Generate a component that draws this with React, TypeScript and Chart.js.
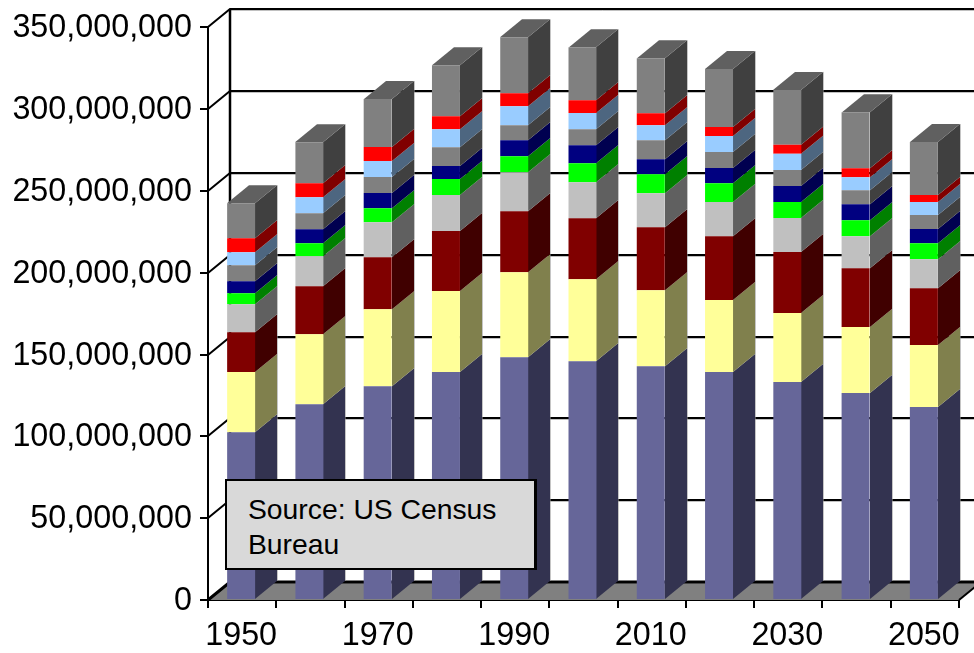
import React, { useEffect, useRef } from "react";
import { Chart, registerables } from "chart.js";

Chart.register(...registerables);

const years = ["1950","1960","1970","1980","1990","2000","2010","2020","2030","2040","2050"];

// values in millions
const s1 = [102.6,119.7,130.7,139.3,148.4,146.0,142.9,139.3,133.2,126.5,117.9];
const s2 = [36.7,42.8,47.0,49.5,51.9,50.1,46.4,44.0,42.2,40.3,37.9];
const s3 = [24.4,29.3,31.8,36.7,37.3,37.3,38.5,39.1,37.3,36.0,34.8];
const s4 = [17.1,18.3,21.4,22.0,23.8,22.0,20.8,20.8,20.8,19.5,17.7];
const s5 = [6.7,7.9,8.6,9.8,9.8,11.6,11.6,11.6,9.8,9.8,9.8];
const s6 = [7.3,8.6,9.2,7.9,9.8,11.0,9.2,9.2,9.8,9.8,8.6];
const s7 = [9.8,9.8,9.8,11.6,9.2,9.8,11.6,9.8,9.8,8.6,8.6];
const s8 = [7.9,9.8,9.8,11.0,11.6,9.8,9.2,9.8,9.8,7.9,7.9];
const s9 = [8.6,8.6,8.6,7.9,7.9,7.9,7.3,5.5,5.5,5.5,4.3];
const s10 = [21.4,25.0,29.3,31.2,34.2,32.4,33.6,35.4,33.6,34.2,32.4];

const seriesValues = [s1,s2,s3,s4,s5,s6,s7,s8,s9,s10];
const frontColors = ["#666699","#FFFF99","#800000","#C0C0C0","#00FF00","#000080","#808080","#99CCFF","#FF0000","#808080"];
const sideColors = ["#333350","#80804D","#400000","#606060","#008000","#000050","#404040","#4D6680","#800000","#404040"];
const topColor = "#606060";
const floorColor = "#808080";

const DX = 22;
const DY = 18;
const BAR_SHIFT = -1;

const depthPlugin = {
  id: "depth",
  beforeDatasetsDraw(chart: any) {
    const { ctx, chartArea: a, scales } = chart;
    const yS = scales.y;
    const L = a.left;
    const R = a.right;
    ctx.save();
    // floor
    ctx.fillStyle = floorColor;
    ctx.beginPath();
    ctx.moveTo(L, a.bottom);
    ctx.lineTo(R, a.bottom);
    ctx.lineTo(R + DX, a.bottom - DY);
    ctx.lineTo(L + DX, a.bottom - DY);
    ctx.closePath();
    ctx.fill();
    // wall lines
    ctx.lineCap = "butt";
    yS.ticks.forEach((t: any) => {
      const py = Math.round(yS.getPixelForValue(t.value));
      ctx.strokeStyle = "rgba(150,150,150,0.6)";
      ctx.lineWidth = 1;
      ctx.beginPath();
      ctx.moveTo(L + DX, py - DY + 1.5);
      ctx.lineTo(R + DX + 20, py - DY + 1.5);
      ctx.stroke();
      ctx.strokeStyle = "#000";
      ctx.lineWidth = t.value === 0 ? 3 : 2;
      ctx.beginPath();
      ctx.moveTo(L, py);
      ctx.lineTo(L + DX, py - DY);
      ctx.lineTo(R + DX + 20, py - DY);
      ctx.stroke();
    });
    ctx.strokeStyle = "#000";
    ctx.lineWidth = 2.5;
    ctx.beginPath();
    ctx.moveTo(L + DX, a.top - DY);
    ctx.lineTo(L + DX, a.bottom - DY);
    ctx.stroke();
    ctx.lineWidth = 2;
    ctx.beginPath();
    ctx.moveTo(R, a.bottom);
    ctx.lineTo(R + DX, a.bottom - DY);
    ctx.stroke();
    // side and top faces
    chart.data.datasets.forEach((ds: any, i: number) => {
      const meta = chart.getDatasetMeta(i);
      meta.data.forEach((bar: any) => {
        const right = Math.round(bar.x + bar.width / 2 + BAR_SHIFT);
        const left = Math.round(bar.x - bar.width / 2 + BAR_SHIFT);
        ctx.fillStyle = sideColors[i];
        ctx.beginPath();
        ctx.moveTo(right, bar.y);
        ctx.lineTo(right + DX, bar.y - DY);
        ctx.lineTo(right + DX, bar.base - DY);
        ctx.lineTo(right, bar.base);
        ctx.closePath();
        ctx.fill();
        // soft outer edge of the side face
        ctx.strokeStyle = "rgba(150,150,150,0.55)";
        ctx.lineWidth = 1;
        ctx.beginPath();
        ctx.moveTo(right + DX + 0.5, bar.y - DY);
        ctx.lineTo(right + DX + 0.5, bar.base - DY);
        ctx.stroke();
        if (i === chart.data.datasets.length - 1) {
          ctx.fillStyle = topColor;
          ctx.beginPath();
          ctx.moveTo(left, bar.y);
          ctx.lineTo(left + DX, bar.y - DY);
          ctx.lineTo(right + DX, bar.y - DY);
          ctx.lineTo(right, bar.y);
          ctx.closePath();
          ctx.fill();
        }
      });
    });
    ctx.restore();
    // the front faces sit a pixel left of the category centres
    ctx.save();
    ctx.translate(BAR_SHIFT, 0);
  },
  afterDatasetsDraw(chart: any) {
    chart.ctx.restore();
  },
};

export default function App() {
  const ref = useRef<HTMLCanvasElement>(null);
  useEffect(() => {
    const chart = new Chart(ref.current as HTMLCanvasElement, {
      type: "bar",
      data: {
        labels: years,
        datasets: seriesValues.map((v, i) => ({
          label: "Series " + (i + 1),
          data: v.map((m) => m * 1000000),
          backgroundColor: frontColors[i],
          borderWidth: 0,
          barPercentage: 1,
          categoryPercentage: 0.41,
        })),
      },
      options: {
        responsive: false,
        animation: false,
        layout: { autoPadding: false, padding: { top: 27, right: 15, left: 0, bottom: 0 } },
        plugins: { legend: { display: false }, tooltip: { enabled: false }, title: { display: false } },
        scales: {
          x: {
            stacked: true,
            grid: { drawOnChartArea: false, color: "#000", lineWidth: 2, tickLength: 8 },
            border: { color: "#000", width: 2 },
            ticks: {
              color: "#000",
              autoSkip: false,
              maxRotation: 0,
              minRotation: 0,
              padding: 9,
              labelOffset: -1,
              font: { family: "'Liberation Sans', Arial, sans-serif", size: 32.3 },
              callback(_v: any, i: number) {
                return i % 2 === 0 ? years[i] : "";
              },
            },
            afterFit(s: any) {
              s.height = 53;
            },
          },
          y: {
            stacked: true,
            min: 0,
            max: 350000000,
            grid: { drawOnChartArea: false, color: "#000", lineWidth: 2, tickLength: 8 },
            border: { color: "#000", width: 2 },
            ticks: {
              color: "#000",
              stepSize: 50000000,
              padding: 8,
              labelOffset: 1,
              font: { family: "'Liberation Sans', Arial, sans-serif", size: 32.3 },
              callback(v: any) {
                return Number(v).toLocaleString("en-US");
              },
            },
            afterFit(s: any) {
              s.width = 208;
            },
          },
        },
      } as any,
      plugins: [depthPlugin],
    });
    return () => chart.destroy();
  }, []);
  return (
    <div style={{ position: "absolute", left: 0, top: 0, width: 974, height: 653, overflow: "hidden", background: "#fff" }}>
      <canvas ref={ref} width={974} height={653} style={{ display: "block" }} />
      <div
        style={{
          position: "absolute",
          left: 225,
          top: 479,
          width: 312,
          height: 91,
          boxSizing: "border-box",
          border: "2px solid #000",
          borderRightWidth: 3,
          background: "#D9D9D9",
          color: "#000",
          fontFamily: "'Liberation Sans', Arial, sans-serif",
          fontSize: 28.3,
          lineHeight: "35px",
          padding: "11px 21px",
        }}
      >
        Source: US Census
        <br />
        Bureau
      </div>
    </div>
  );
}
